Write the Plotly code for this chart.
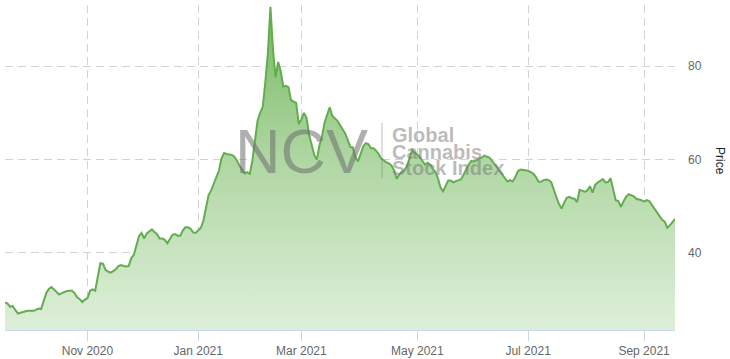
import pandas as pd
import plotly.graph_objects as go

# ---- data (NCV Global Cannabis Stock Index, daily close, trading days) ----
start_date = "2020-09-18"
end_date = "2021-09-17"
prices = [
    29.4, 29.15, 28.45, 28.66, 27.8, 27.0, 27.2, 27.4, 27.5, 27.6,
    27.6, 27.6, 27.8, 28.1, 28.0, 29.8, 31.4, 32.3, 32.7, 32.2,
    31.6, 31.1, 31.4, 31.7, 31.85, 31.9, 31.9, 31.4, 30.5, 30.1,
    29.5, 30.0, 30.3, 31.9, 32.2, 31.9, 34.9, 37.8, 37.7, 36.4,
    36.0, 35.8, 36.1, 36.5, 37.2, 37.4, 37.2, 37.1, 37.2, 38.9,
    39.6, 41.7, 43.6, 44.3, 43.1, 44.2, 44.6, 45.05, 44.5, 44.0,
    43.1, 43.1, 42.8, 42.1, 43.0, 43.9, 44.06, 43.7, 43.7, 44.8,
    45.5, 45.5, 45.2, 44.4, 44.3, 44.85, 45.4, 46.9, 49.8, 52.4,
    53.4, 54.9, 56.1, 57.6, 60.2, 61.4, 61.2, 61.1, 61.0, 60.6,
    59.8, 58.7, 57.8, 57.0, 57.3, 56.95, 59.8, 64.7, 68.3, 70.0,
    71.2, 76.5, 82.7, 92.7, 83.5, 77.6, 80.9, 78.9, 75.6, 75.8,
    75.5, 72.7, 72.5, 72.15, 67.6, 68.6, 70.0, 69.0, 65.3, 62.9,
    61.0, 60.0, 63.0, 64.9, 67.9, 69.6, 71.2, 69.4, 68.9, 68.3,
    67.4, 66.6, 65.6, 64.2, 62.7, 62.6, 60.5, 59.6, 61.3, 62.8,
    63.5, 63.3, 62.4, 62.4, 61.9, 61.2, 60.2, 59.7, 59.4, 59.2,
    58.7, 57.7, 55.9, 56.8, 57.4, 57.65, 58.6, 60.3, 62.0, 61.5,
    61.1, 60.5, 59.7, 58.9, 59.3, 58.9, 58.0, 57.4, 56.0, 54.0,
    53.2, 54.4, 55.5, 55.5, 55.1, 55.4, 55.6, 55.8, 56.8, 58.0,
    59.0, 59.7, 59.6, 59.9, 60.1, 60.4, 60.85, 60.7, 60.4, 59.7,
    59.1, 58.3, 57.5, 56.8, 56.0, 55.3, 55.6, 55.3, 56.2, 57.5,
    57.85, 57.75, 57.7, 57.6, 57.3, 57.0, 56.3, 55.3, 55.25, 55.6,
    55.7, 55.6, 55.1, 53.3, 51.9, 50.4, 49.5, 50.8, 51.8, 52.0,
    51.7, 51.6, 50.9, 53.5, 53.3, 53.1, 53.4, 54.3, 52.9, 54.6,
    55.1, 55.4, 55.8, 55.1, 55.2, 56.0, 53.5, 51.3, 51.1, 49.9,
    51.0, 52.0, 52.6, 52.4, 52.1, 51.6, 51.5, 51.3, 51.0, 51.3,
    51.1, 50.3, 49.5, 48.8, 48.0, 47.1, 46.7, 45.4, 45.9, 46.6, 47.3,
]
tick_dates = ["2020-11-03", "2021-01-01", "2021-02-26", "2021-04-30", "2021-06-30", "2021-09-01"]
tick_labels = ["Nov 2020", "Jan 2021", "Mar 2021", "May 2021", "Jul 2021", "Sep 2021"]
y_ticks = [40, 60, 80]
y_range = [23.5, 93.1]

dates = pd.bdate_range(start_date, end_date)
assert len(dates) == len(prices)

FONT = "Liberation Sans, Arial, sans-serif"

fig = go.Figure()
fig.add_trace(go.Scatter(
    x=dates, y=prices, mode="lines",
    line=dict(color="#62ad4e", width=2),
    fill="tozeroy",
    fillgradient=dict(
        type="vertical",
        colorscale=[[0, "rgb(222,239,217)"], [0.5, "rgb(178,216,166)"], [1, "rgb(118,184,98)"]],
        start=y_range[0], stop=y_range[1],
    ),
    hoverinfo="skip",
))

fig.update_layout(
    width=730, height=359,
    margin=dict(l=5, r=55, t=5, b=29, autoexpand=False),
    plot_bgcolor="white", paper_bgcolor="white",
    font=dict(family=FONT, size=12, color="#666666"),
    showlegend=False,
    xaxis=dict(
        range=[start_date, end_date],
        rangebreaks=[dict(bounds=["sat", "mon"])],
        tickvals=tick_dates, ticktext=tick_labels,
        showgrid=True, gridcolor="#d2d2d2", griddash="8px,5px", gridwidth=1,
        showline=True, linecolor="#ccd6eb", linewidth=1,
        ticks="outside", ticklen=10, tickcolor="#ccd6eb",
        tickfont=dict(size=12, color="#666666"),
        zeroline=False, automargin=False,
    ),
    yaxis=dict(
        side="right", range=y_range,
        tickvals=y_ticks,
        showgrid=True, gridcolor="#d2d2d2", griddash="8px,5px", gridwidth=1,
        showline=False, zeroline=False, ticks="",
        ticklabelstandoff=12, automargin=False,
        tickfont=dict(size=12, color="#666666"),
    ),
)

# axis title on the right, reading top-to-bottom
fig.add_annotation(xref="paper", yref="paper", x=1.067, y=0.52, xanchor="center", yanchor="middle",
                   text="Price", textangle=90, showarrow=False,
                   font=dict(size=12, color="#222222"))

# watermark
wm = "rgba(110,110,110,0.55)"
fig.add_annotation(xref="paper", yref="paper", x=0.341, y=0.55, xanchor="left", yanchor="middle",
                   text="NCV", showarrow=False, font=dict(size=63, color=wm, family=FONT))
fig.add_shape(type="line", xref="paper", yref="paper", x0=0.5627, x1=0.5627, y0=0.468, y1=0.637,
              line=dict(color="rgba(110,110,110,0.45)", width=1))
for txt, yy in [("Global", 0.600), ("Cannabis", 0.549), ("Stock Index", 0.497)]:
    fig.add_annotation(xref="paper", yref="paper", x=0.575, y=yy, xanchor="left", yanchor="middle",
                       text=txt, showarrow=False, height=16, valign="middle",
                       font=dict(size=20, color="rgba(120,120,120,0.5)", family=FONT, weight="bold"))

fig.write_html("out.html")
